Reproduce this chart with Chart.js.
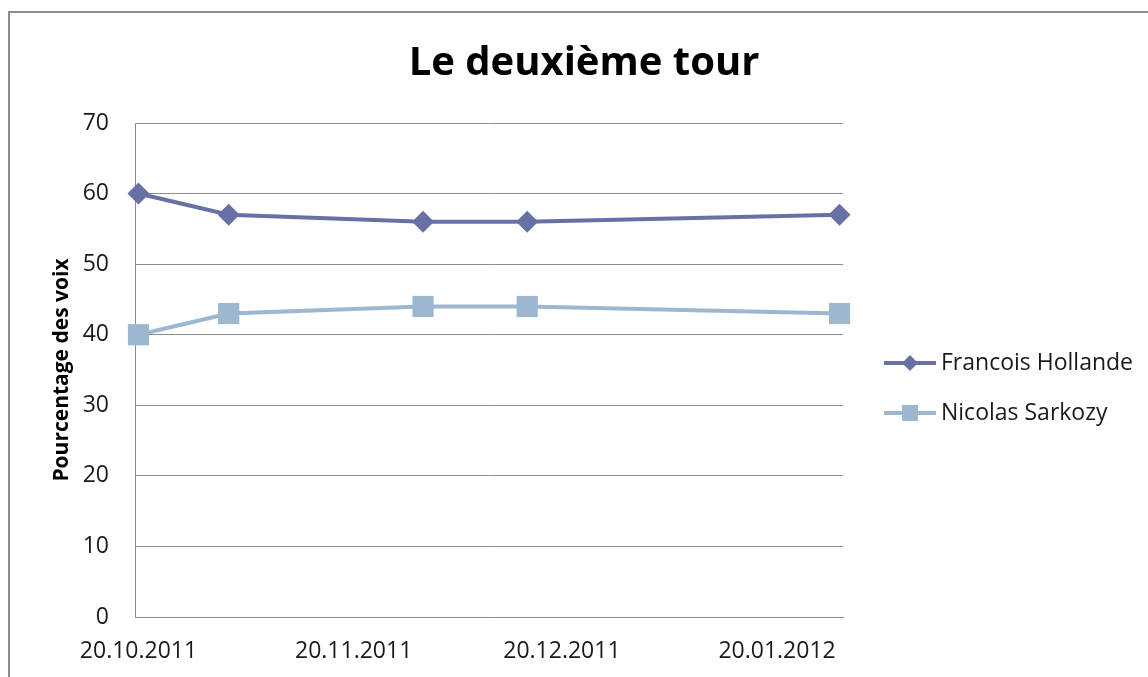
<!DOCTYPE html>
<html>
<head>
<meta charset="utf-8">
<script src="https://cdn.jsdelivr.net/npm/chart.js@4/dist/chart.umd.min.js"></script>
<style>
  html, body { margin: 0; padding: 0; background: #fff; }
  #wrap { position: relative; width: 1148px; height: 677px; }
</style>
</head>
<body>
<div id="wrap"><canvas id="chart" width="1148" height="677"></canvas></div>
<script>
// poll dates (dd.mm.yyyy) and results in percent
const pollDates = ['20.10.2011', '02.11.2011', '30.11.2011', '15.12.2011', '29.01.2012'];
const hollande = [60, 57, 56, 56, 57];
const sarkozy = [40, 43, 44, 44, 43];
const xTickDates = ['20.10.2011', '20.11.2011', '20.12.2011', '20.01.2012'];
const seriesNames = ['Francois Hollande', 'Nicolas Sarkozy'];
const chartTitle = 'Le deuxième tour';

const FONT = '"Open Sans", sans-serif';
const DAY = 86400000;

function parseDate(s) {
    const [d, m, y] = s.split('.').map(Number);
    return Date.UTC(y, m - 1, d);
}
const origin = parseDate(pollDates[0]);
const toDay = (s) => Math.round((parseDate(s) - origin) / DAY);
function dayLabel(v) {
    const dt = new Date(origin + v * DAY);
    const pad = (n) => String(n).padStart(2, '0');
    return `${pad(dt.getUTCDate())}.${pad(dt.getUTCMonth() + 1)}.${dt.getUTCFullYear()}`;
}

const xTicks = xTickDates.map(toDay);
const lastDay = toDay(pollDates[pollDates.length - 1]);

// frame, title and legend (line with marker in the middle, like Excel)
const excelBits = {
    id: 'excelBits',
    beforeDraw(chart) {
        const ctx = chart.ctx;
        ctx.save();
        ctx.strokeStyle = '#8c8c8c';
        ctx.lineWidth = 2;
        ctx.beginPath();
        ctx.moveTo(9, 700);
        ctx.lineTo(9, 12);
        ctx.lineTo(1160, 12);
        ctx.stroke();
        ctx.restore();
    },
    afterDraw(chart) {
        const ctx = chart.ctx;
        ctx.save();
        ctx.fillStyle = '#000';
        ctx.font = 'bold 40px ' + FONT;
        ctx.textAlign = 'center';
        ctx.textBaseline = 'middle';
        ctx.fillText(chartTitle, 584, 64);
        ctx.textAlign = 'left';
        chart.data.datasets.forEach((ds, i) => {
            const y = 363 + i * 50;
            ctx.strokeStyle = ds.borderColor;
            ctx.lineWidth = 4;
            ctx.beginPath();
            ctx.moveTo(884, y);
            ctx.lineTo(936, y);
            ctx.stroke();
            ctx.fillStyle = ds.backgroundColor;
            ctx.beginPath();
            if (ds.pointStyle === 'rectRot') {
                ctx.moveTo(910, y - 8);
                ctx.lineTo(918, y);
                ctx.lineTo(910, y + 8);
                ctx.lineTo(902, y);
            } else {
                ctx.rect(902, y - 8, 16, 16);
            }
            ctx.fill();
            ctx.fillStyle = '#1a1a1a';
            ctx.font = '23px ' + FONT;
            ctx.fillText(ds.label, 941, y);
        });
        ctx.restore();
    }
};

new Chart(document.getElementById('chart'), {
    type: 'line',
    data: {
        datasets: [
            {
                label: seriesNames[0],
                data: pollDates.map((d, i) => ({x: toDay(d), y: hollande[i]})),
                borderColor: '#6771a3',
                backgroundColor: '#6771a3',
                borderWidth: 4,
                pointStyle: 'rectRot',
                pointRadius: 11,
                pointBorderWidth: 0,
                tension: 0,
                clip: false
            },
            {
                label: seriesNames[1],
                data: pollDates.map((d, i) => ({x: toDay(d), y: sarkozy[i]})),
                borderColor: '#9cb7ce',
                backgroundColor: '#9cb7ce',
                borderWidth: 4,
                pointStyle: 'rect',
                pointRadius: 15,
                pointBorderWidth: 0,
                tension: 0,
                clip: false
            }
        ]
    },
    options: {
        responsive: false,
        animation: false,
        layout: { padding: { left: 49, right: 305, top: 123, bottom: 0 } },
        plugins: {
            legend: { display: false },
            tooltip: { enabled: false },
            title: { display: false }
        },
        scales: {
            x: {
                type: 'linear',
                min: -0.5,
                max: lastDay + 0.5,
                afterBuildTicks: (scale) => { scale.ticks = xTicks.map((v) => ({value: v})); },
                afterFit: (scale) => { scale.height = 60; },
                grid: { display: false, drawTicks: false },
                border: { display: true, color: '#8c8c8c', width: 1 },
                ticks: {
                    padding: 21,
                    maxRotation: 0,
                    autoSkip: false,
                    color: '#1a1a1a',
                    font: { family: FONT, size: 23 },
                    callback: (v) => dayLabel(v)
                }
            },
            y: {
                min: 0,
                max: 70,
                afterFit: (scale) => { scale.width = 86; },
                grid: { color: '#8c8c8c', lineWidth: 1, drawTicks: false },
                border: { display: true, color: '#8c8c8c', width: 1 },
                ticks: {
                    stepSize: 10,
                    padding: 26,
                    color: '#1a1a1a',
                    font: { family: FONT, size: 23 }
                },
                title: {
                    display: true,
                    text: 'Pourcentage des voix',
                    color: '#000',
                    font: { family: FONT, size: 21, weight: 'bold' },
                    padding: { top: 0, bottom: 0 }
                }
            }
        }
    },
    plugins: [excelBits]
});
</script>
</body>
</html>
